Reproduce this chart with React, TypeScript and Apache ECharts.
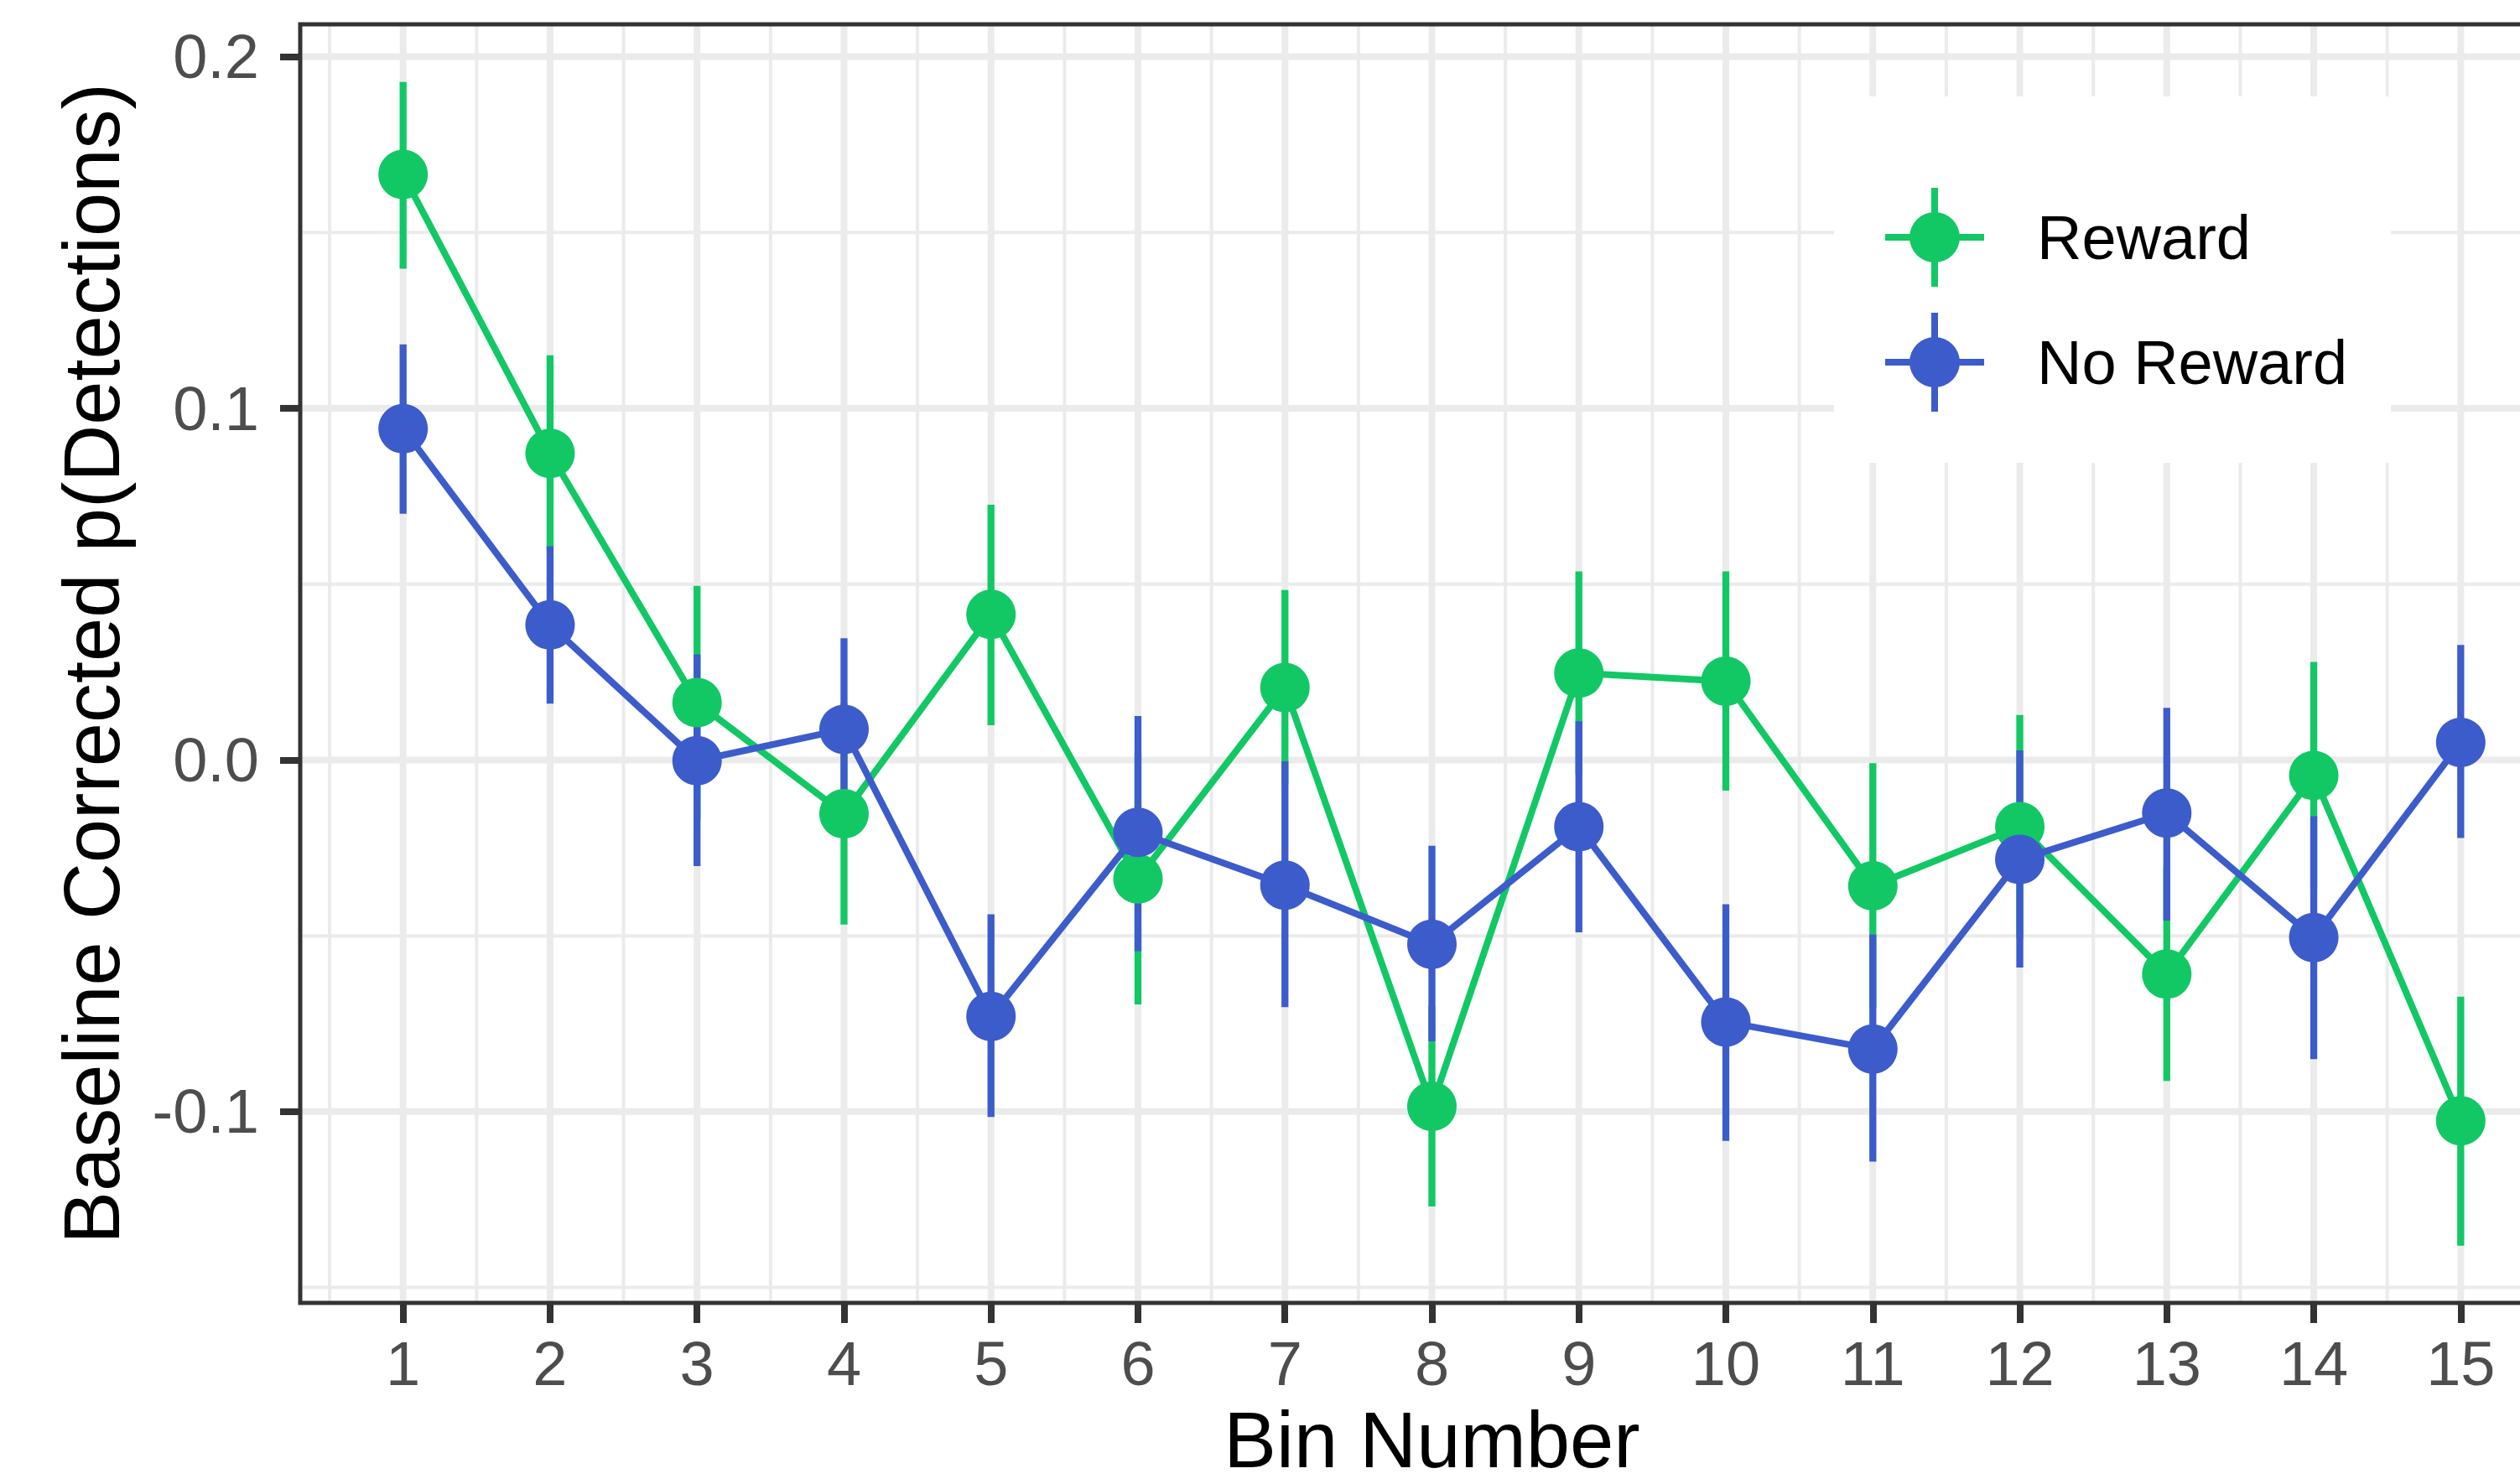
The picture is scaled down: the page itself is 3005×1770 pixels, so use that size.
import React, { useEffect, useRef } from "react";
import * as echarts from "echarts";

const bins = [1, 2, 3, 4, 5, 6, 7, 8, 9, 10, 11, 12, 13, 14, 15];

const rewardMean = [0.1665, 0.0872, 0.0163, -0.0153, 0.0414, -0.0338, 0.0206, -0.0985, 0.0247, 0.0224, -0.0358, -0.019, -0.0609, -0.0044, -0.1026];
const rewardLow = [0.1397, 0.0595, -0.017, -0.0468, 0.0099, -0.0695, -0.007, -0.127, -0.004, -0.0087, -0.0707, -0.0508, -0.0913, -0.0367, -0.1381];
const rewardHigh = [0.1928, 0.1151, 0.0495, 0.0162, 0.0726, 0.0019, 0.0483, -0.07, 0.0536, 0.0536, -0.0009, 0.0128, -0.0305, 0.0279, -0.0673];

const noRewardMean = [0.0942, 0.0384, -0.0002, 0.0087, -0.0729, -0.0206, -0.0356, -0.0524, -0.019, -0.0745, -0.0822, -0.0283, -0.0151, -0.0505, 0.005];
const noRewardLow = [0.07, 0.016, -0.0302, -0.017, -0.1015, -0.0544, -0.0703, -0.08, -0.049, -0.1083, -0.1142, -0.059, -0.0457, -0.0851, -0.0222];
const noRewardHigh = [0.1182, 0.0608, 0.03, 0.0346, -0.0439, 0.0125, -0.0004, -0.0244, 0.011, -0.041, -0.0496, 0.0027, 0.0148, -0.016, 0.0327];

const xTicks = [1, 2, 3, 4, 5, 6, 7, 8, 9, 10, 11, 12, 13, 14, 15];
const yTicks = [-0.1, 0.0, 0.1, 0.2];
const xGrid = [0.5, 1, 1.5, 2, 2.5, 3, 3.5, 4, 4.5, 5, 5.5, 6, 6.5, 7, 7.5, 8, 8.5, 9, 9.5, 10, 10.5, 11, 11.5, 12, 12.5, 13, 13.5, 14, 14.5, 15, 15.5];
const yGrid = [-0.15, -0.1, -0.05, 0.0, 0.05, 0.1, 0.15, 0.2];

const X_MIN = 0.3;
const X_MAX = 15.7;
const Y_MIN = -0.1544;
const Y_MAX = 0.2092;

const GREEN = "#12C865";
const BLUE = "#3C5CCB";
const FONT = "'Liberation Sans', Arial, Helvetica, sans-serif";

const LEGEND_ICON =
  "path://M0,55 L118,55 L118,63 L0,63 Z M55,0 L63,0 L63,118 L55,118 Z M89,59 A30,30 0 1,1 29,59 A30,30 0 1,1 89,59 Z";

function errorBarSeries(name: string, color: string, lo: number[], hi: number[]) {
  return {
    type: "custom",
    name,
    z: 3,
    silent: true,
    encode: { x: 0, y: [1, 2] },
    data: bins.map((b, i) => [b, lo[i], hi[i]]),
    renderItem: (_params: any, api: any) => {
      const p1 = api.coord([api.value(0), api.value(1)]);
      const p2 = api.coord([api.value(0), api.value(2)]);
      return {
        type: "line",
        shape: { x1: p1[0], y1: p1[1], x2: p2[0], y2: p2[1] },
        style: { stroke: color, lineWidth: 8.3, lineCap: "butt" },
      };
    },
  };
}

export default function App() {
  const ref = useRef<HTMLDivElement>(null);

  useEffect(() => {
    document.body.style.margin = "0";
    if (!ref.current) return;
    const chart = echarts.init(ref.current, undefined, { renderer: "svg" });

    const option: any = {
      animation: false,
      backgroundColor: "#ffffff",
      textStyle: { fontFamily: FONT },
      grid: {
        left: 358,
        top: 29,
        width: 2699,
        height: 1525,
        containLabel: false,
        outerBoundsMode: "none",
        show: false,
      },
      legend: {
        show: true,
        orient: "vertical",
        left: 2187,
        top: 115,
        padding: [109, 52, 61, 61],
        itemWidth: 118,
        itemHeight: 118,
        itemGap: 31,
        backgroundColor: "#ffffff",
        selectedMode: false,
        icon: LEGEND_ICON,
        data: ["Reward", "No Reward"],
        textStyle: { fontSize: 74, color: "#000000", fontFamily: FONT, padding: [0, 0, 0, 58] },
      },
      xAxis: {
        type: "value",
        min: X_MIN,
        max: X_MAX,
        name: "Bin Number",
        nameLocation: "middle",
        nameGap: 116,
        nameTextStyle: { fontSize: 94, color: "#000000", fontFamily: FONT },
        axisLine: { show: false, onZero: false },
        axisTick: { show: true, customValues: xTicks, length: 24, lineStyle: { color: "#333333", width: 8 } },
        axisLabel: {
          show: true,
          customValues: xTicks,
          fontSize: 74,
          color: "#4D4D4D",
          fontFamily: FONT,
          margin: 35,
          formatter: (v: number) => String(v),
        },
        splitLine: { show: false },
        minorSplitLine: { show: false },
      },
      yAxis: {
        type: "value",
        min: Y_MIN,
        max: Y_MAX,
        name: "Baseline Corrected p(Detections)",
        nameLocation: "middle",
        nameGap: 202,
        nameTextStyle: { fontSize: 94, color: "#000000", fontFamily: FONT },
        axisLine: { show: false, onZero: false },
        axisTick: { show: true, customValues: yTicks, length: 24, lineStyle: { color: "#333333", width: 8 } },
        axisLabel: {
          show: true,
          customValues: yTicks,
          fontSize: 74,
          color: "#4D4D4D",
          fontFamily: FONT,
          margin: 49,
          formatter: (v: number) => v.toFixed(1),
        },
        splitLine: { show: false },
      },
      graphic: [
        {
          type: "rect",
          z: 100,
          silent: true,
          shape: { x: 358, y: 29, width: 2699, height: 1525 },
          style: { fill: "none", stroke: "#333333", lineWidth: 5 },
        },
      ],
      series: [
        {
          type: "custom",
          name: "gridV",
          z: 1,
          silent: true,
          encode: { x: 0, y: 1 },
          data: xGrid.map((v) => [v, 0]),
          renderItem: (_params: any, api: any) => {
            const v = api.value(0);
            const p1 = api.coord([v, Y_MIN]);
            const p2 = api.coord([v, Y_MAX]);
            const major = Math.abs(v - Math.round(v)) < 1e-9;
            return {
              type: "line",
              shape: { x1: p1[0], y1: p1[1], x2: p2[0], y2: p2[1] },
              style: { stroke: "#EBEBEB", lineWidth: major ? 8 : 4 },
            };
          },
        },
        {
          type: "custom",
          name: "gridH",
          z: 1,
          silent: true,
          encode: { x: 0, y: 1 },
          data: yGrid.map((v) => [1, v]),
          renderItem: (_params: any, api: any) => {
            const v = api.value(1);
            const p1 = api.coord([X_MIN, v]);
            const p2 = api.coord([X_MAX, v]);
            const major = Math.abs(v * 10 - Math.round(v * 10)) < 1e-6;
            return {
              type: "line",
              shape: { x1: p1[0], y1: p1[1], x2: p2[0], y2: p2[1] },
              style: { stroke: "#EBEBEB", lineWidth: major ? 8 : 4 },
            };
          },
        },
        {
          type: "line",
          name: "Reward",
          z: 2,
          silent: true,
          color: GREEN,
          showSymbol: false,
          symbol: "none",
          data: bins.map((b, i) => [b, rewardMean[i]]),
          lineStyle: { color: GREEN, width: 8 },
          itemStyle: { color: GREEN },
        },
        {
          type: "line",
          name: "No Reward",
          z: 2,
          silent: true,
          color: BLUE,
          showSymbol: false,
          symbol: "none",
          data: bins.map((b, i) => [b, noRewardMean[i]]),
          lineStyle: { color: BLUE, width: 8 },
          itemStyle: { color: BLUE },
        },
        errorBarSeries("Reward SE", GREEN, rewardLow, rewardHigh),
        errorBarSeries("No Reward SE", BLUE, noRewardLow, noRewardHigh),
        {
          type: "scatter",
          name: "Reward",
          z: 4,
          silent: true,
          symbol: "circle",
          symbolSize: 59,
          data: bins.map((b, i) => [b, rewardMean[i]]),
          itemStyle: { color: GREEN, opacity: 1 },
        },
        {
          type: "scatter",
          name: "No Reward",
          z: 4,
          silent: true,
          symbol: "circle",
          symbolSize: 59,
          data: bins.map((b, i) => [b, noRewardMean[i]]),
          itemStyle: { color: BLUE, opacity: 1 },
        },
      ],
    };

    chart.setOption(option);
    return () => {
      chart.dispose();
    };
  }, []);

  return (
    <div style={{ width: 3005, height: 1770, overflow: "hidden", position: "relative" }}>
      <div ref={ref} style={{ width: 3120, height: 1770 }} />
    </div>
  );
}
